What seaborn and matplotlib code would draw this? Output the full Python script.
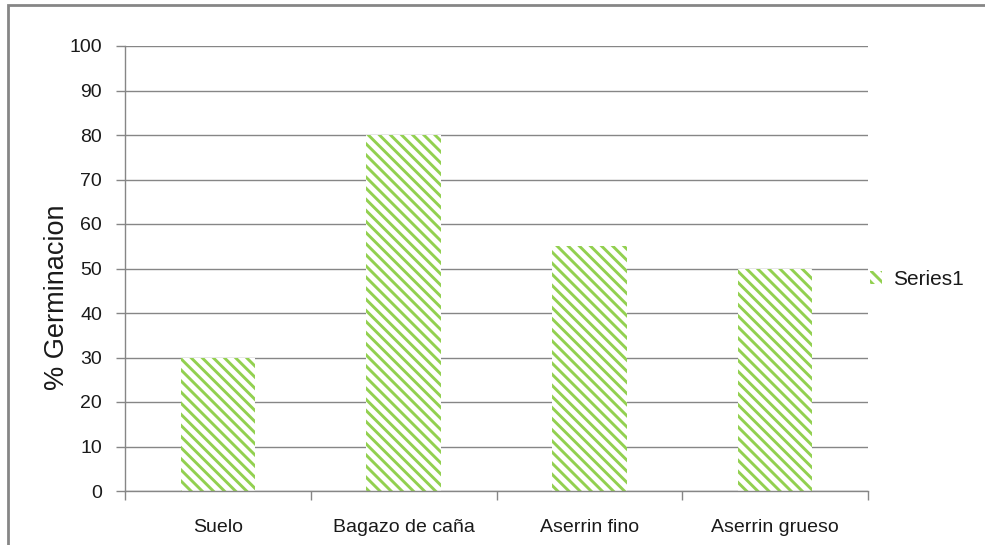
import numpy as np
import pandas as pd
import matplotlib
matplotlib.use("Agg")
import matplotlib.pyplot as plt
import seaborn as sns
from matplotlib.patches import Rectangle, Patch

# data
categories = ["Suelo", "Bagazo de caña", "Aserrin fino", "Aserrin grueso"]
germinacion = [30, 80, 55, 50]
series_name = "Series1"

sns.set_style("white")
plt.rcParams['font.family'] = ['Liberation Sans', 'DejaVu Sans']
plt.rcParams['hatch.linewidth'] = 2.1

green = "#92D050"
gray = "#868686"
txt = "#1a1a1a"
hatch = "\\\\\\"

df = pd.DataFrame({"cat": categories, "val": germinacion})

fig = plt.figure(figsize=(9.85, 5.45), dpi=100)
ax = fig.add_axes([125/985, 1-491/545, (868-125)/985, (491-46)/545])

sns.barplot(data=df, x="cat", y="val", ax=ax, width=0.4, color="white", saturation=1)
for p in ax.patches:
    p.set_facecolor("white")
    p.set_edgecolor(green)
    p.set_linewidth(0)
    p.set_hatch(hatch)

ax.set_xlim(-0.5, len(categories) - 0.5)
ax.set_ylim(0, 100)
ax.set_yticks(np.arange(0, 101, 10))
ax.yaxis.grid(True, color=gray, linewidth=1)
ax.set_axisbelow(True)

for s in ["top", "right"]:
    ax.spines[s].set_visible(False)
for s in ["left", "bottom"]:
    ax.spines[s].set_color(gray)
    ax.spines[s].set_linewidth(1)

ax.tick_params(axis="y", which="major", length=6.5, color=gray, width=1, labelsize=14, labelcolor=txt, pad=10, left=True)
ax.set_xticks(np.arange(-0.5, len(categories)), minor=True)
ax.tick_params(axis="x", which="minor", length=6.5, color=gray, width=1, bottom=True)
ax.tick_params(axis="x", which="major", length=0, labelsize=14, labelcolor=txt, pad=20)

ax.set_xlabel("")
ax.set_ylabel("% Germinacion", fontsize=19.5, color=txt)
ax.yaxis.set_label_coords(-0.074, 0.436)

handle = Patch(facecolor="white", edgecolor=green, hatch=hatch, linewidth=0)
ax.legend([handle], [series_name], loc="center left", bbox_to_anchor=(0.977, 0.476),
          frameon=False, fontsize=15, handlelength=0.6, handleheight=0.6,
          handletextpad=0.5, labelcolor=txt)

# outer chart border (cropped at right/bottom like the reference)
fig.patches.append(Rectangle((8/985, -0.1), 1.2, 1 - 5/545 + 0.1, transform=fig.transFigure,
                             fill=False, edgecolor=gray, linewidth=2, zorder=10))

fig.savefig("out.png", dpi=100)
